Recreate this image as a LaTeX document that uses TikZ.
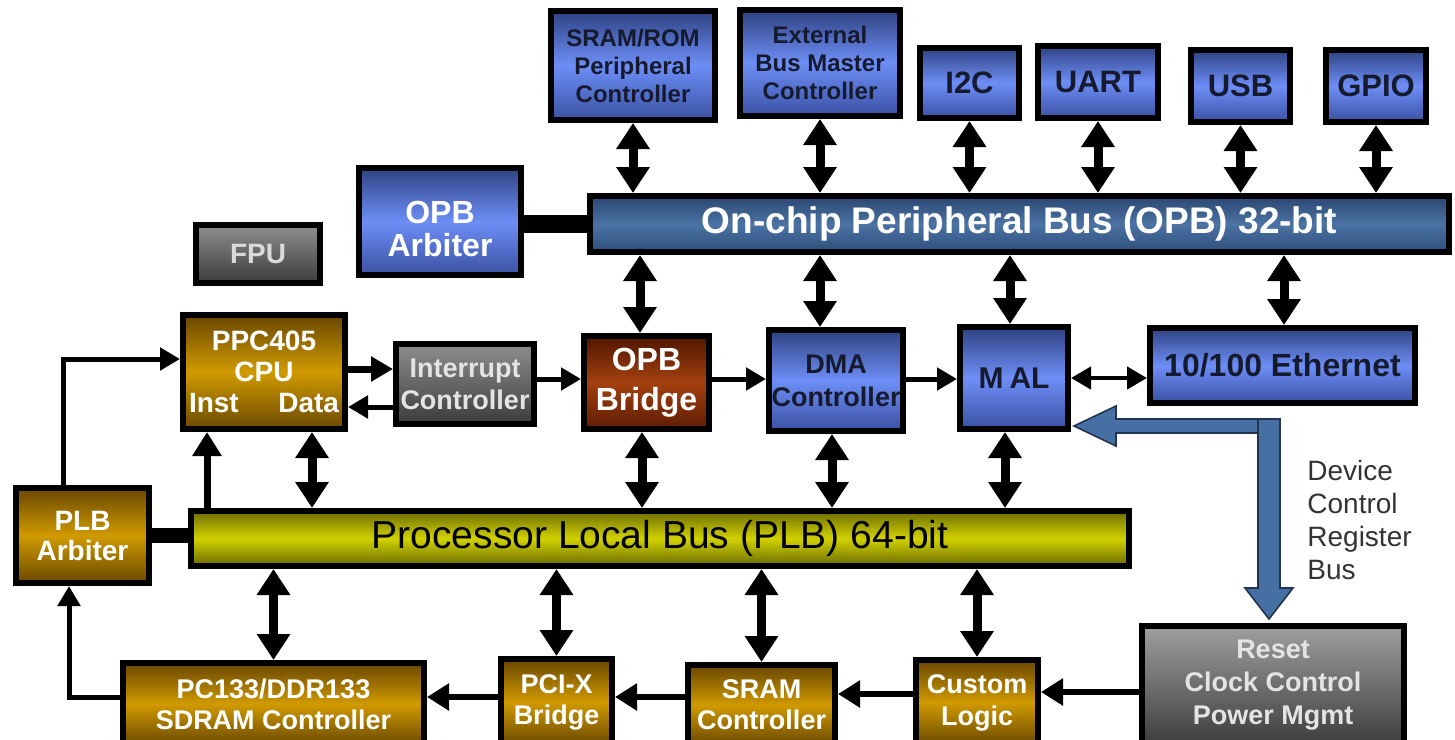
\documentclass[tikz,border=0pt]{standalone}
\usepackage{fontspec}
\setmainfont{Liberation Sans}
\usetikzlibrary{arrows.meta}
\definecolor{bluetop}{HTML}{2E4282}
\definecolor{bluemid}{HTML}{6E8EF6}
\definecolor{bluebot}{HTML}{3A51A3}
\definecolor{bluetext}{HTML}{151A2E}
\definecolor{opbtop}{HTML}{2B4570}
\definecolor{opbmid}{HTML}{4B73A3}
\definecolor{opbbot}{HTML}{2E4E7C}
\definecolor{goldtop}{HTML}{684600}
\definecolor{goldmid}{HTML}{D09A00}
\definecolor{goldbot}{HTML}{6A4800}
\definecolor{plbtop}{HTML}{6C6C00}
\definecolor{plbmid}{HTML}{D2D200}
\definecolor{plbbot}{HTML}{6A6A00}
\definecolor{brtop}{HTML}{4E1600}
\definecolor{brmid}{HTML}{A4400F}
\definecolor{brbot}{HTML}{5C1C02}
\definecolor{graytop}{HTML}{8E8E8E}
\definecolor{graybot}{HTML}{3C3C3C}
\definecolor{graytext}{HTML}{E4E4E4}
\definecolor{dcrblue}{HTML}{4670A3}
\definecolor{dcrdark}{HTML}{22344F}
\definecolor{labelgray}{HTML}{333333}
\newcommand\blocknode[7]{%
  \pgfmathsetmacro\bxw{(#4-#2)*0.5-3}%
  \pgfmathsetmacro\bxh{(#5-#3)*0.5-3}%
  \pgfmathsetmacro\bxx{(#2+#4)/2}%
  \pgfmathsetmacro\bxy{(#3+#5)/2}%
  \node[#6, minimum width=\bxw pt, minimum height=\bxh pt] (#1) at (\bxx,\bxy) {#7};}
\tikzset{
  blk/.style={draw=black, line width=3pt, inner sep=0pt, align=center},
  bluebox/.style={blk, top color=bluetop, bottom color=bluebot, middle color=bluemid, text=bluetext},
  opbbus/.style={blk, top color=opbtop, bottom color=opbbot, middle color=opbmid, text=white},
  goldbox/.style={blk, top color=goldtop, bottom color=goldbot, middle color=goldmid, text=white},
  plbbus/.style={blk, top color=plbtop, bottom color=plbbot, middle color=plbmid, text=black},
  brbox/.style={blk, top color=brtop, bottom color=brbot, middle color=brmid, text=white},
  graybox/.style={blk, top color=graytop, bottom color=graybot, text=graytext},
  dbl/.style={line width=4.5pt, {Triangle[width=16pt,length=13pt]}-{Triangle[width=16pt,length=13pt]}},
  uparr/.style={line width=3.5pt, -{Triangle[width=14pt,length=12pt]}},
  thk/.style={line width=3.5pt, -{Triangle[width=12pt,length=11pt]}},
  thn/.style={line width=2.5pt, -{Triangle[width=11pt,length=10pt]}},
  thnd/.style={line width=2.2pt, {Triangle[width=11pt,length=10pt]}-{Triangle[width=11pt,length=10pt]}},
  botarr/.style={line width=3pt, -{Triangle[width=13pt,length=11pt]}},
  barline/.style={line width=#1, line cap=butt},
  dcr/.style={fill=dcrblue, draw=dcrdark, line width=0.8pt, line join=miter},
}
\begin{document}
\begin{tikzpicture}[x=0.5pt,y=-0.5pt]
\useasboundingbox (0,0) rectangle (1455,739);

% top peripherals
\blocknode{fpu}{193}{222}{323}{286}{graybox, text=graytext!90!gray, font=\bfseries\fontsize{14}{16}\selectfont}{FPU}
\blocknode{opbarb}{356}{165}{524}{278}{bluebox, text=white, font=\bfseries\fontsize{16}{16.5}\selectfont}{\rule{0pt}{19pt}OPB\\Arbiter}
\blocknode{sram}{548}{8}{718}{123}{bluebox, font=\bfseries\fontsize{12}{14}\selectfont}{SRAM/ROM\\Peripheral\\Controller}
\blocknode{ext}{737}{7}{903}{119}{bluebox, font=\bfseries\fontsize{12}{14}\selectfont}{External\\Bus Master\\Controller}
\blocknode{i2c}{917}{45}{1022}{121}{bluebox, font=\bfseries\fontsize{15.5}{17}\selectfont}{I2C}
\blocknode{uart}{1035}{43}{1161}{121}{bluebox, font=\bfseries\fontsize{15.5}{17}\selectfont}{UART}
\blocknode{usb}{1188}{47}{1293}{125}{bluebox, font=\bfseries\fontsize{15.5}{17}\selectfont}{USB}
\blocknode{gpio}{1323}{47}{1429}{125}{bluebox, font=\bfseries\fontsize{15.5}{17}\selectfont}{GPIO}
\blocknode{opb}{587}{193}{1452}{255}{opbbus, font=\bfseries\fontsize{18.5}{20}\selectfont}{On-chip Peripheral Bus (OPB) 32-bit}

% middle row
\blocknode{ppc}{180}{312}{348}{432}{goldbox, font=\bfseries\fontsize{14}{15.5}\selectfont}{PPC405\\CPU\\\makebox[75pt]{Inst\hfill Data}}
\blocknode{intc}{393}{341}{537}{427}{graybox, font=\bfseries\fontsize{13.5}{16}\selectfont}{Interrupt\\Controller}
\blocknode{bridge}{581}{333}{712}{432}{brbox, font=\bfseries\fontsize{16}{20}\selectfont}{OPB\\Bridge}
\blocknode{dma}{766}{327}{906}{434}{bluebox, font=\bfseries\fontsize{13.5}{16.5}\selectfont}{DMA\\Controller}
\blocknode{mal}{957}{324}{1071}{432}{bluebox, font=\bfseries\fontsize{15}{17}\selectfont}{M\kern3pt AL}
\blocknode{eth}{1147}{325}{1418}{406}{bluebox, font=\bfseries\fontsize{16}{18}\selectfont}{10/100 Ethernet}

% PLB
\blocknode{plbarb}{13}{485}{152}{586}{goldbox, font=\bfseries\fontsize{14}{15}\selectfont}{PLB\\Arbiter}
\blocknode{plb}{188}{508}{1132}{569}{plbbus, font=\fontsize{19.5}{21}\selectfont}{Processor Local Bus (PLB) 64-bit}

% bottom row
\blocknode{sdram}{120}{660}{427}{748}{goldbox, font=\bfseries\fontsize{13.5}{15.5}\selectfont}{PC133/DDR133\\SDRAM Controller}
\blocknode{pcix}{498}{656}{615}{748}{goldbox, font=\bfseries\fontsize{13.5}{15.5}\selectfont}{PCI-X\\Bridge}
\blocknode{sramc}{685}{662}{838}{748}{goldbox, font=\bfseries\fontsize{13.5}{15.5}\selectfont}{SRAM\\Controller}
\blocknode{custom}{913}{657}{1041}{748}{goldbox, font=\bfseries\fontsize{13.5}{16}\selectfont}{Custom\\Logic}
\blocknode{reset}{1139}{623}{1407}{748}{graybox, top color=graytop!85!white, font=\bfseries\fontsize{13.5}{16.5}\selectfont}{Reset\\Clock Control\\Power Mgmt}

% bars to arbiters
\draw[barline=9pt] (opbarb.east |- opb.west) -- (opb.west);
\draw[barline=7.5pt] (plbarb.east |- 0,535) -- (plb.west |- 0,535);

% OPB peripherals
\foreach \n in {sram,ext,i2c,uart,usb,gpio}
  \draw[dbl] (\n.south) -- (\n.south |- opb.north);
\draw[dbl] (opb.south -| 640,0) -- (bridge.north -| 640,0);
\draw[dbl] (opb.south -| 820,0) -- (dma.north -| 820,0);
\draw[dbl] (opb.south -| 1010,0) -- (mal.north -| 1010,0);
\draw[dbl] (opb.south -| 1284,0) -- (eth.north -| 1284,0);

% PLB connections up
\draw[uparr] (plb.north -| 207,0) -- (ppc.south -| 207,0);
\draw[dbl] (plb.north -| 312,0) -- (ppc.south -| 312,0);
\draw[dbl] (plb.north -| 642,0) -- (bridge.south -| 642,0);
\draw[dbl] (plb.north -| 832,0) -- (dma.south -| 832,0);
\draw[dbl] (plb.north -| 1005,0) -- (mal.south -| 1005,0);

% PLB connections down
\draw[dbl] (plb.south -| sdram.north) -- (sdram.north);
\draw[dbl] (plb.south -| pcix.north) -- (pcix.north);
\draw[dbl] (plb.south -| sramc.north) -- (sramc.north);
\draw[dbl] (plb.south -| custom.north) -- (custom.north);

% middle horizontal
\draw[thk] (ppc.east |- 0,369) -- (intc.west |- 0,369);
\draw[thn] (intc.west |- 0,407) -- (ppc.east |- 0,407);
\draw[thn] (intc.east |- 0,379) -- (bridge.west |- 0,379);
\draw[thn] (bridge.east |- 0,379) -- (dma.west |- 0,379);
\draw[thn] (dma.east |- 0,379) -- (mal.west |- 0,379);
\draw[thnd] (mal.east |- 0,378) -- (eth.west |- 0,378);

% arbiter loops
\draw[thn] (plbarb.north -| 63,0) |- (ppc.west |- 0,359);
\draw[thn] (sdram.west |- 0,697) -| (plbarb.south -| 69,0);

% bottom horizontal
\draw[botarr] (reset.west |- 0,692) -- (custom.east |- 0,692);
\draw[botarr] (custom.west |- 0,694) -- (sramc.east |- 0,694);
\draw[botarr] (sramc.west |- 0,697) -- (pcix.east |- 0,697);
\draw[botarr] (pcix.west |- 0,697) -- (sdram.east |- 0,697);

% Device Control Register Bus
\draw[dcr] (1258,419) -- (1116,419) -- (1116,406) -- (1074,426) -- (1116,446) -- (1116,433) -- (1258,433) -- cycle;
\draw[dcr] (1258,419) -- (1280,419) -- (1280,588) -- (1293,588) -- (1269,619) -- (1245,588) -- (1258,588) -- cycle;
\node[anchor=north west, align=left, inner sep=0pt, text=labelgray, font=\fontsize{14}{16.5}\selectfont] (dcrlabel) at (1307,460) {Device\\Control\\Register\\Bus};
\end{tikzpicture}
\end{document}
